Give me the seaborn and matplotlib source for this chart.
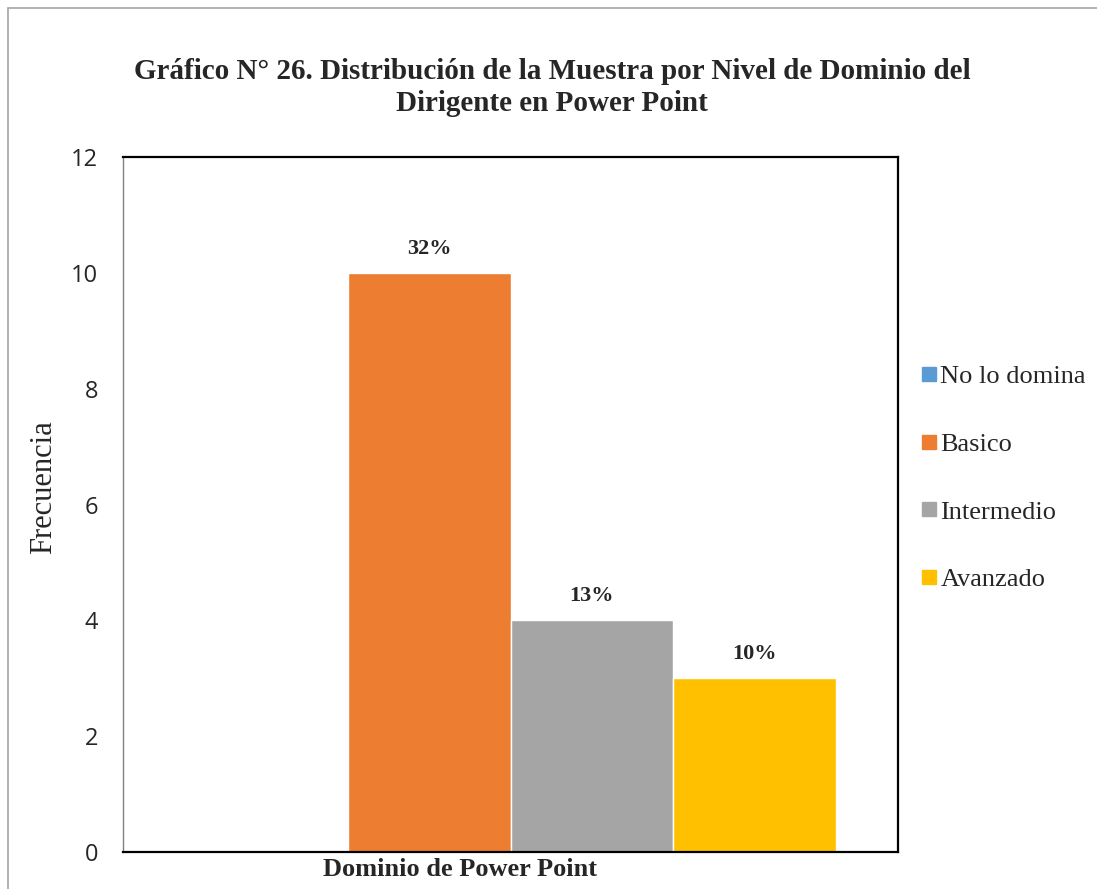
import numpy as np
import pandas as pd
import matplotlib.pyplot as plt
import seaborn as sns
from matplotlib.lines import Line2D

categoria = ['Dominio de Power Point']
niveles = ['No lo domina', 'Basico', 'Intermedio', 'Avanzado']
frecuencia = [0, 10, 4, 3]
porcentajes = ['', '32%', '13%', '10%']
colores = ['#5B9BD5', '#ED7D31', '#A5A5A5', '#FFC000']

df = pd.DataFrame({'grupo': categoria * 4, 'nivel': niveles, 'frecuencia': frecuencia})

sns.set_theme(style='white')
plt.rcParams['font.family'] = ['Liberation Serif', 'DejaVu Serif']

fig = plt.figure(figsize=(10.97, 8.89), dpi=100)
ax = fig.add_axes([123 / 1097, 1 - 852 / 889, 775 / 1097, 695 / 889])

sns.barplot(data=df, x='grupo', y='frecuencia', hue='nivel', hue_order=niveles,
            palette=colores, width=0.84, saturation=1, ax=ax, legend=False)

for cont, lab in zip(ax.containers, porcentajes):
    ax.bar_label(cont, labels=[lab], padding=10, fontsize=16, fontweight='bold')

ax.set_xlim(-0.5, 0.5)
ax.set_ylim(0, 12)
ax.set_yticks(range(0, 13, 2))
ax.set_yticklabels([str(v) for v in range(0, 13, 2)], family='Open Sans', fontsize=17)
ax.tick_params(axis='y', length=0, pad=18)
ax.set_xticks([])
ax.set_xlabel(categoria[0], fontsize=19, fontweight='bold', va='top')
ax.xaxis.set_label_coords(337 / 775, -6 / 695)
ax.set_ylabel('Frecuencia', fontsize=22)
ax.yaxis.set_label_coords(-65 / 775, 365 / 695)

for s in ['top', 'right', 'bottom']:
    ax.spines[s].set_color('black')
    ax.spines[s].set_linewidth(1.6)
ax.spines['left'].set_color('#808080')
ax.spines['left'].set_linewidth(1.0)

handles = [Line2D([0], [0], marker='s', linestyle='', markersize=9.5,
                  markerfacecolor=c, markeredgecolor=c) for c in colores]
ax.legend(handles, niveles, loc='center left', bbox_to_anchor=(799 / 775, 374 / 695),
          frameon=False, fontsize=19, labelspacing=1.68, handletextpad=0.2,
          handlelength=0.5, borderpad=0, borderaxespad=0)

fig.suptitle('Gráfico N° 26. Distribución de la Muestra por Nivel de Dominio del\nDirigente en Power Point',
             x=552 / 1097, y=1 - 58 / 889, fontsize=21, fontweight='bold', linespacing=1.25)

fig.add_artist(Line2D([8 / 1097, 8 / 1097], [0, 1 - 8 / 889], color='#A6A6A6', lw=1.2))
fig.add_artist(Line2D([8 / 1097, 1], [1 - 8 / 889, 1 - 8 / 889], color='#A6A6A6', lw=1.2))

fig.savefig('out.png', dpi=100)
